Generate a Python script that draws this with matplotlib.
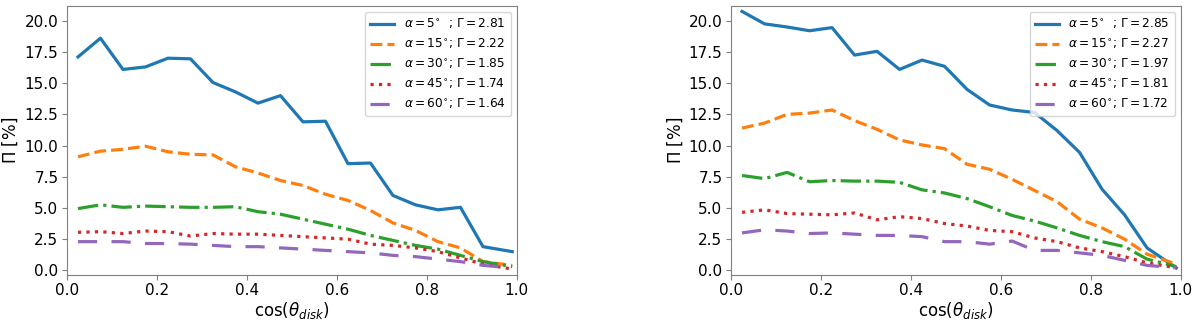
import matplotlib
matplotlib.use("Agg")
import matplotlib.pyplot as plt
import numpy as np

x = [0.025, 0.075, 0.125, 0.175, 0.225, 0.275, 0.325, 0.375, 0.425, 0.475,
     0.525, 0.575, 0.625, 0.675, 0.725, 0.775, 0.825, 0.875, 0.925, 0.99]

left_blue = [17.1, 18.6, 16.1, 16.3, 17.0, 16.95, 15.05, 14.3, 13.4, 14.0,
             11.9, 11.95, 8.55, 8.6, 6.0, 5.25, 4.85, 5.05, 1.9, 1.5]
left_orange = [9.1, 9.55, 9.7, 9.95, 9.5, 9.3, 9.25, 8.3, 7.8, 7.2,
               6.8, 6.1, 5.6, 4.8, 3.8, 3.2, 2.3, 1.8, 0.7, 0.4]
left_green = [4.95, 5.25, 5.05, 5.15, 5.1, 5.05, 5.05, 5.1, 4.7, 4.5,
              4.1, 3.7, 3.3, 2.8, 2.4, 2.0, 1.7, 1.2, 0.7, 0.3]
left_red = [3.05, 3.1, 2.95, 3.15, 3.1, 2.75, 2.95, 2.9, 2.9, 2.8,
            2.7, 2.6, 2.5, 2.1, 2.0, 1.8, 1.5, 1.0, 0.5, 0.1]
left_purple = [2.3, 2.3, 2.3, 2.15, 2.15, 2.1, 2.0, 1.9, 1.9, 1.8,
               1.7, 1.6, 1.5, 1.4, 1.2, 1.1, 0.9, 0.7, 0.4, 0.2]

right_blue = [20.75, 19.75, 19.5, 19.2, 19.45, 17.25, 17.55, 16.1, 16.85, 16.35,
              14.5, 13.25, 12.85, 12.65, 11.2, 9.45, 6.5, 4.45, 1.8, 0.2]
right_orange = [11.4, 11.8, 12.5, 12.6, 12.85, 12.0, 11.3, 10.45, 10.05, 9.75,
                8.5, 8.1, 7.3, 6.4, 5.5, 4.1, 3.4, 2.5, 1.3, 0.5]
right_green = [7.6, 7.35, 7.85, 7.1, 7.2, 7.15, 7.15, 7.05, 6.45, 6.2,
               5.75, 5.1, 4.4, 3.95, 3.4, 2.8, 2.3, 1.9, 0.9, 0.3]
right_red = [4.65, 4.85, 4.55, 4.5, 4.45, 4.6, 4.05, 4.3, 4.15, 3.75,
             3.55, 3.2, 3.1, 2.6, 2.3, 1.8, 1.5, 1.1, 0.6, 0.2]
right_purple = [3.0, 3.25, 3.15, 2.95, 3.0, 2.9, 2.8, 2.8, 2.7, 2.3,
                2.3, 2.1, 2.35, 1.6, 1.6, 1.4, 1.2, 0.8, 0.4, 0.2]

alphas = [5, 15, 30, 45, 60]
left_gamma = ["2.81", "2.22", "1.85", "1.74", "1.64"]
right_gamma = ["2.85", "2.27", "1.97", "1.81", "1.72"]

colors = ["#1f77b4", "#ff7f0e", "#2ca02c", "#d62728", "#9467bd"]
styles = ["-", "--", "-.", ":", (0, (6, 4.5))]

def labels(gammas):
    out = []
    for a, g in zip(alphas, gammas):
        sp = r"$\ \ $" if a < 10 else ""
        out.append(r"$\alpha=%d^{\circ}$%s; $\Gamma=%s$" % (a, sp, g))
    return out

fig = plt.figure(figsize=(12, 3.21), dpi=100)
ax1 = fig.add_axes([0.0556, 0.143, 0.375, 0.839])
ax2 = fig.add_axes([0.609, 0.143, 0.375, 0.839])

for ax, series, gam in [(ax1, [left_blue, left_orange, left_green, left_red, left_purple], left_gamma),
                        (ax2, [right_blue, right_orange, right_green, right_red, right_purple], right_gamma)]:
    for y, c, ls, lab in zip(series, colors, styles, labels(gam)):
        ax.plot(x, y, color=c, linestyle=ls, lw=2.3, label=lab)
    ax.set_xlim(0, 1.0)
    ax.set_ylim(-0.38, 21.2)
    ax.set_xticks([0.0, 0.2, 0.4, 0.6, 0.8, 1.0])
    ax.set_yticks(np.arange(0, 20.1, 2.5))
    ax.tick_params(labelsize=11, color="0.5", pad=2.5)
    for s in ax.spines.values():
        s.set_edgecolor("0.5")
    ax.set_xlabel(r"$\cos(\theta_{disk})$", fontsize=12, labelpad=1)
    ax.set_ylabel(r"$\Pi$ [%]", fontsize=12, labelpad=3)
    ax.legend(loc="upper right", fontsize=8.7, handlelength=2.0)

fig.savefig("out.png", dpi=100)
